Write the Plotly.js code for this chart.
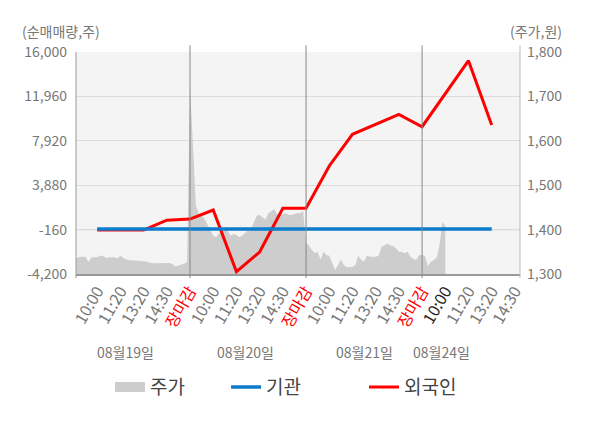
<!DOCTYPE html>
<html>
<head>
<meta charset="utf-8">
<script src="https://cdn.plot.ly/plotly-3.0.1.min.js"></script>
<style>
    html, body { margin: 0; padding: 0; background: #fff; }
    #chart { width: 600px; height: 428px; }
</style>
</head>
<body>
<div id="chart"></div>
<script>
        // category slots on the x axis (one per label)
        const tickLabels = ['10:00', '11:20', '13:20', '14:30', '장마감',
                            '10:00', '11:20', '13:20', '14:30', '장마감',
                            '10:00', '11:20', '13:20', '14:30', '장마감',
                            '10:00', '11:20', '13:20', '14:30'];
        const dayLabels = ['08월19일', '08월20일', '08월21일', '08월24일'];
        const dayLabelSlot = [1.2, 6.37, 11.54, 14.82];
        const dayCloseSlot = [4, 9, 14];

        // net buying (shares), one value per slot
        const foreignNet = [-200, -200, -200, 700, 800, 1620, -3990, -2200, 1780,
                            1780, 5630, 8510, 9400, 10330, 9200, 12250, 15210, 9360];
        const institutionNet = [-100, -100, -100, -100, -100, -100, -100, -100, -100,
                                -100, -100, -100, -100, -100, -100, -100, -100, -100];

        // intraday price, 8 samples per slot
        const priceDay1 = [1327, 1336, 1339, 1339, 1339, 1327, 1338, 1338, 1338, 1341,
                           1341, 1336, 1338, 1338, 1338, 1335, 1341, 1336, 1334, 1331,
                           1331, 1331, 1330, 1329, 1329, 1328, 1326, 1324, 1324, 1324,
                           1324, 1324, 1324, 1325, 1322, 1317, 1319, 1321, 1323, 1327];
        const priceDay2 = [1721, 1591, 1455, 1435, 1431, 1424, 1413, 1399, 1386, 1383,
                           1392, 1392, 1401, 1397, 1386, 1390, 1388, 1383, 1386, 1392,
                           1399, 1401, 1417, 1431, 1433, 1428, 1422, 1437, 1442, 1446,
                           1435, 1431, 1435, 1437, 1433, 1433, 1435, 1437, 1437, 1442];
        const priceDay3 = [1370, 1365, 1354, 1347, 1350, 1332, 1350, 1343, 1341, 1325,
                           1309, 1320, 1332, 1320, 1316, 1316, 1316, 1320, 1341, 1332,
                           1328, 1341, 1339, 1339, 1339, 1341, 1361, 1365, 1368, 1365,
                           1363, 1358, 1350, 1350, 1347, 1350, 1339, 1334, 1332, 1343];
        const priceDay4 = [1343, 1341, 1318, 1327, 1332, 1336, 1365, 1417, 1408];

        const leftTicks = [-4200, -160, 3880, 7920, 11960, 16000];
        const leftTickText = ['-4,200', '-160', '3,880', '7,920', '11,960', '16,000'];
        const rightTicks = [1300, 1400, 1500, 1600, 1700, 1800];
        const rightTickText = ['1,300', '1,400', '1,500', '1,600', '1,700', '1,800'];

        function buildPrice() {
            let xs = [], ys = [];
            [priceDay1, priceDay2, priceDay3, priceDay4].forEach((day, d) => {
                day.forEach((v, k) => {
                    xs.push(5 * d - 1 + k / 8);
                    ys.push(v);
                });
            });
            return { x: xs, y: ys };
        }

        function drawChart() {
            const slots = tickLabels.map((t, i) => i);
            const lineSlots = foreignNet.map((v, i) => i);
            const price = buildPrice();

            const tickText = tickLabels.map((t, i) => {
                if (t === '장마감') return '<span style="color:#ff0000">' + t + '</span>';
                if (i === 15) return '<span style="color:#222">' + t + '</span>';
                return t;
            });

            // price sits on the primary axis so the net-buy lines (overlay) draw on top of it
            const traces = [
                {
                    x: price.x, y: price.y, yaxis: 'y',
                    type: 'scatter', mode: 'lines', fill: 'tozeroy',
                    fillcolor: '#cdcdcd', line: { width: 0, color: '#cdcdcd' },
                    showlegend: false, hoverinfo: 'skip'
                },
                {
                    // legend entry for the price area
                    x: [null], y: [null], yaxis: 'y', name: '주가',
                    type: 'scatter', mode: 'lines',
                    line: { width: 15, color: '#cdcdcd' }, legend: 'legend'
                },
                {
                    x: lineSlots, y: foreignNet, yaxis: 'y2', name: '외국인',
                    type: 'scatter', mode: 'lines',
                    line: { width: 3, color: '#ff0000' }, legend: 'legend3'
                },
                {
                    x: lineSlots, y: institutionNet, yaxis: 'y2', name: '기관',
                    type: 'scatter', mode: 'lines',
                    line: { width: 3.5, color: '#0b7dcc' }, legend: 'legend2'
                }
            ];

            let shapes = [
                { type: 'line', xref: 'paper', yref: 'y', x0: 0, x1: 1, y0: 1400, y1: 1400,
                  line: { color: '#888', width: 1 }, layer: 'below' },
                { type: 'line', xref: 'paper', yref: 'paper', x0: 0, x1: 0, y0: -0.018, y1: 1,
                  line: { color: '#999', width: 1 } },
                { type: 'line', xref: 'paper', yref: 'paper', x0: 1, x1: 1, y0: -0.018, y1: 1.03,
                  line: { color: '#bbb', width: 1 } }
            ];
            dayCloseSlot.forEach(s => {
                shapes.push({ type: 'line', xref: 'x', yref: 'paper', x0: s, x1: s, y0: -0.018, y1: 1.03,
                              line: { color: '#888', width: 1 } });
            });

            let annotations = dayLabels.map((t, i) => ({
                text: t, x: dayLabelSlot[i], xref: 'x', y: -0.351, yref: 'paper',
                xanchor: 'center', yanchor: 'middle',
                showarrow: false, font: { size: 14, color: '#777' }
            }));
            annotations.push({ text: '(순매매량,주)', x: -0.034, xref: 'paper', y: 1.095, yref: 'paper',
                               xanchor: 'center', yanchor: 'middle',
                               showarrow: false, font: { size: 14, color: '#777' } });
            annotations.push({ text: '(주가,원)', x: 1.035, xref: 'paper', y: 1.095, yref: 'paper',
                               xanchor: 'center', yanchor: 'middle',
                               showarrow: false, font: { size: 14, color: '#777' } });

            const legendBase = {
                orientation: 'h', y: -0.51, yanchor: 'middle', xanchor: 'left',
                bgcolor: 'rgba(0,0,0,0)', font: { size: 19, color: '#444' }
            };

            const layout = {
                width: 600, height: 428,
                margin: { l: 76, r: 80, t: 52, b: 154 },
                paper_bgcolor: '#ffffff',
                plot_bgcolor: '#f4f4f4',
                font: { family: 'Noto Sans CJK KR, Noto Sans, sans-serif', size: 14, color: '#777' },
                xaxis: {
                    range: [-0.914, 18.22], tickvals: slots, ticktext: tickText,
                    tickangle: -60, showgrid: false, zeroline: false,
                    showline: true, linecolor: '#999', linewidth: 1.5,
                    ticks: '', automargin: false, fixedrange: true,
                    tickfont: { size: 16, color: '#777' }
                },
                yaxis: {
                    range: [1300, 1800], tickvals: rightTicks, ticktext: rightTickText,
                    side: 'right', showgrid: true, gridcolor: '#dcdcdc', zeroline: false,
                    showline: false, ticks: '', ticklabelstandoff: 6, automargin: false,
                    tickfont: { size: 14, color: '#777' }
                },
                yaxis2: {
                    range: [-4200, 16000], tickvals: leftTicks, ticktext: leftTickText,
                    overlaying: 'y', side: 'left', showgrid: false, zeroline: false,
                    showline: false, ticks: '', ticklabelstandoff: 8, automargin: false,
                    tickfont: { size: 14, color: '#777' }
                },
                shapes: shapes,
                annotations: annotations,
                legend: Object.assign({}, legendBase, { x: 0.0766 }),
                legend2: Object.assign({}, legendBase, { x: 0.338 }),
                legend3: Object.assign({}, legendBase, { x: 0.6486 })
            };

            Plotly.newPlot('chart', traces, layout, { displayModeBar: false, staticPlot: true });
        }

        drawChart();
</script>
</body>
</html>
